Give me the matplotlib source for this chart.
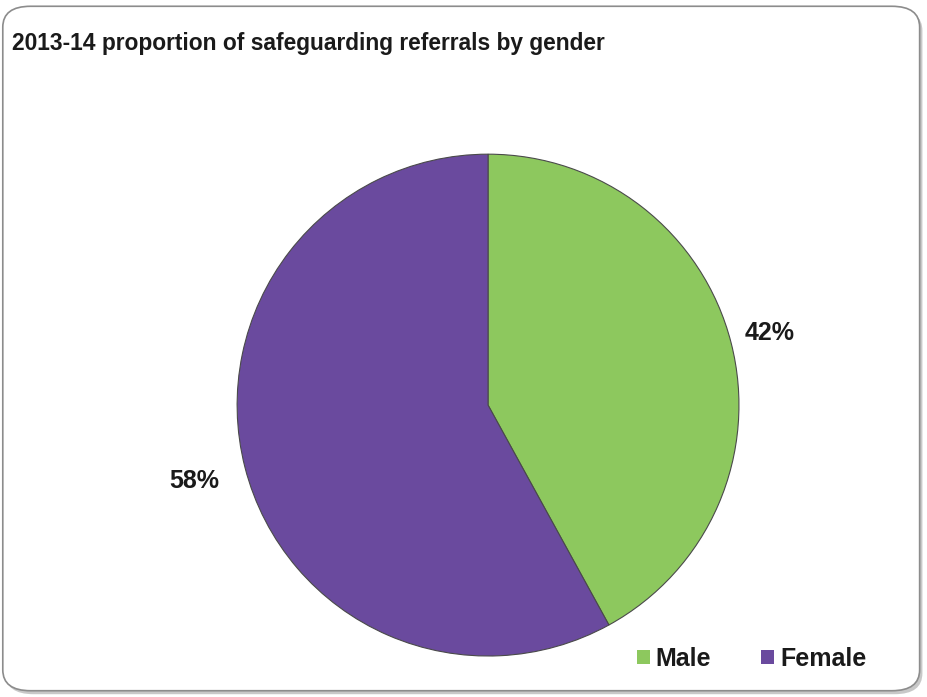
import matplotlib.pyplot as plt
import numpy as np
from matplotlib.patches import FancyBboxPatch

plt.rcParams['font.family'] = ['Liberation Sans', 'DejaVu Sans']

genders = ['Male', 'Female']
shares = [42, 58]
colors = ['#8dc85e', '#6a4a9e']
label_dist = [1.16, 1.21]

fig = plt.figure(figsize=(9.28, 6.97), dpi=100)

# rounded chart frame with a light shadow
shadow = FancyBboxPatch((0.006, 0.004), 0.988, 0.982, boxstyle='round,pad=0,rounding_size=0.03',
                        transform=fig.transFigure, facecolor='#c8c8c8', edgecolor='none', zorder=-3)
frame = FancyBboxPatch((0.003, 0.009), 0.988, 0.982, boxstyle='round,pad=0,rounding_size=0.03',
                       transform=fig.transFigure, facecolor='white', edgecolor='#8c8c8c', linewidth=1.2, zorder=-2)
fig.patches.extend([shadow, frame])

fig.text(0.013, 0.938, '2013-14 proportion of safeguarding referrals by gender',
         fontsize=16.4, fontweight='bold', color='#1a1a1a', va='center', ha='left')

ax = fig.add_axes([0.2554, 0.0588, 0.541, 0.720])
ax.patch.set_visible(False)
wedges, _ = ax.pie(shares, colors=colors, startangle=90, counterclock=False,
                   wedgeprops=dict(edgecolor='#4a4a4a', linewidth=0.8))
ax.set_xlim(-1, 1)
ax.set_ylim(-1, 1)
ax.set_aspect('equal')

for w, s, d in zip(wedges, shares, label_dist):
    mid = np.deg2rad((w.theta1 + w.theta2) / 2)
    ax.text(d * np.cos(mid), d * np.sin(mid), f'{s}%', ha='center', va='center',
            fontsize=18, fontweight='bold', color='#1a1a1a')

leg = fig.legend(wedges, genders, loc='center', bbox_to_anchor=(0.81, 0.055), ncol=2,
                 frameon=False, fontsize=18, handlelength=0.5, handleheight=0.5,
                 handletextpad=0.25, columnspacing=2.0)
for h in leg.legend_handles:
    h.set_edgecolor('none')
for t in leg.get_texts():
    t.set_fontweight('bold')
    t.set_color('#1a1a1a')

fig.savefig('out.png', dpi=100)
